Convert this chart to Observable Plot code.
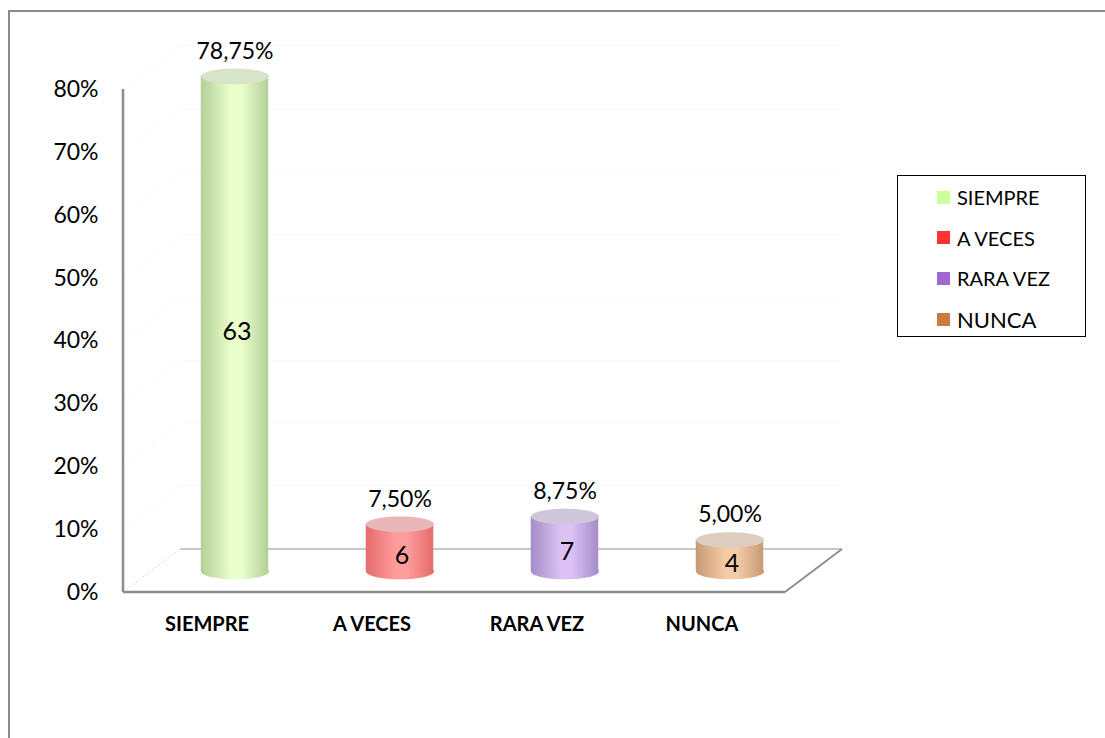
<!DOCTYPE html>
<html>
<head>
<meta charset="utf-8">
<script src="https://cdn.jsdelivr.net/npm/d3@7"></script>
<script src="https://cdn.jsdelivr.net/npm/@observablehq/plot@0.6"></script>
<style>
  html, body { margin: 0; padding: 0; background: #fff; overflow: hidden; width: 1105px; height: 738px; }
  #frame { position: absolute; left: 8px; top: 10px; width: 1200px; height: 800px; border: 2px solid #8a8a8a; box-sizing: border-box; }
  #chart { position: absolute; left: 0; top: 0; }
  #legend { position: absolute; left: 897px; top: 175px; width: 189px; height: 162px; border: 1.5px solid #000; box-sizing: border-box; background: #fff; font-family: Lato, "Open Sans", sans-serif; font-size: 20px; color: #000; }
  .item { position: absolute; left: 39px; height: 24px; display: flex; align-items: center; }
  .sw { width: 13px; height: 13px; margin-right: 7px; }
</style>
</head>
<body>
<div id="frame"></div>
<div id="chart"></div>
<div id="legend"></div>
<script>
// ---- data ----
const categories = ["SIEMPRE", "A VECES", "RARA VEZ", "NUNCA"];
const counts = [63, 6, 7, 4];
const percents = [78.75, 7.5, 8.75, 5.0];
const percentLabels = ["78,75%", "7,50%", "8,75%", "5,00%"];
const yTicks = [0, 10, 20, 30, 40, 50, 60, 70, 80];
const legendColors = ["#ccff99", "#ff3333", "#a066d3", "#cc7a3f"];
const legendFontSizes = [20, 20, 20, 22];
const edgeColors = ["#b3cf98", "#e56c6c", "#a48cc8", "#c79a76"];
const centerColors = ["#eaffcc", "#ff9d9d", "#dcc2f4", "#f6cca6"];
const topColors = ["#d7e4c9", "#e8b6b6", "#d0c6dc", "#ddcdbf"];

// ---- style constants ----
const DEPTH_X = 57, DEPTH_Y = -43;     // floor depth
const BAR_DX = 28, BAR_DY = -21;       // bars sit mid-depth
const BAR_R = 34;                      // half bar width (px)
const M = { left: 123, right: 320, top: 89, bottom: 146 };
const W = 1105, H = 738;

const rows = categories.map((c, i) => ({
  cat: c, count: counts[i], pct: percents[i], pctLabel: percentLabels[i],
  grad: `url(#grad${i})`, top: topColors[i]
}));

// ellipse symbol for cylinder caps
const ellipse = {
  draw(context, size) {
    const rx = Math.sqrt(size / Math.PI), ry = rx * 0.23, k = 0.5523;
    context.moveTo(-rx, 0);
    context.bezierCurveTo(-rx, -ry * k, -rx * k, -ry, 0, -ry);
    context.bezierCurveTo(rx * k, -ry, rx, -ry * k, rx, 0);
    context.bezierCurveTo(rx, ry * k, rx * k, ry, 0, ry);
    context.bezierCurveTo(-rx * k, ry, -rx, ry * k, -rx, 0);
    context.closePath();
  }
};

// gradient definitions
function defs() {
  const g = d3.create("svg:defs");
  categories.forEach((c, i) => {
    const lg = g.append("linearGradient").attr("id", `grad${i}`).attr("x1", 0).attr("x2", 1).attr("y1", 0).attr("y2", 0);
    lg.append("stop").attr("offset", "0%").attr("stop-color", edgeColors[i]);
    lg.append("stop").attr("offset", "45%").attr("stop-color", centerColors[i]);
    lg.append("stop").attr("offset", "60%").attr("stop-color", centerColors[i]);
    lg.append("stop").attr("offset", "100%").attr("stop-color", edgeColors[i]);
  });
  return g.node();
}

// 3D floor, walls and axis line
function walls(index, scales, values, dims) {
  const g = d3.create("svg:g").attr("fill", "none");
  const x0 = dims.marginLeft, x1 = dims.width - dims.marginRight;
  const y0 = scales.y(0);
  yTicks.filter(t => t > 0).forEach(t => {
    const y = scales.y(t);
    g.append("line").attr("x1", x0 + DEPTH_X).attr("x2", x1 + DEPTH_X).attr("y1", y + DEPTH_Y).attr("y2", y + DEPTH_Y)
      .attr("stroke", "#fafafa").attr("stroke-width", 1);
    g.append("line").attr("x1", x0).attr("x2", x0 + DEPTH_X).attr("y1", y).attr("y2", y + DEPTH_Y)
      .attr("stroke", "#f5f5f5").attr("stroke-dasharray", "2,2");
  });
  g.append("line").attr("x1", x0).attr("y1", y0).attr("x2", x0 + DEPTH_X).attr("y2", y0 + DEPTH_Y)
    .attr("stroke", "#d6d6d6").attr("stroke-dasharray", "2,2");
  g.append("line").attr("x1", x0 + DEPTH_X).attr("y1", y0 + DEPTH_Y).attr("x2", x1 + DEPTH_X).attr("y2", y0 + DEPTH_Y)
    .attr("stroke", "#c8c8c8").attr("stroke-width", 2);
  g.append("line").attr("x1", x1).attr("y1", y0).attr("x2", x1 + DEPTH_X).attr("y2", y0 + DEPTH_Y)
    .attr("stroke", "#8c8c8c").attr("stroke-width", 1.8);
  g.append("line").attr("x1", x0).attr("y1", y0).attr("x2", x1).attr("y2", y0)
    .attr("stroke", "#8c8c8c").attr("stroke-width", 2.5);
  g.append("line").attr("x1", x0).attr("x2", x0).attr("y1", scales.y(yTicks[yTicks.length - 1])).attr("y2", y0)
    .attr("stroke", "#8c8c8c").attr("stroke-width", 2.5);
  return g.node();
}

const band = (W - M.left - M.right) / categories.length;
const inset = (band - 2 * BAR_R) / 2;

const chart = Plot.plot({
  width: W,
  height: H,
  marginLeft: M.left,
  marginRight: M.right,
  marginTop: M.top,
  marginBottom: M.bottom,
  style: { fontFamily: "Lato, 'Open Sans', sans-serif", background: "transparent", color: "#000" },
  x: { type: "band", domain: categories, padding: 0, label: null },
  y: { domain: [0, 80], label: null },
  marks: [
    defs,
    walls,
    Plot.axisY({ ticks: yTicks, tickFormat: d => `${d}%`, tickSize: 0, tickPadding: 25, fontSize: 23, fill: "#000", label: null }),
    Plot.axisX({ tickSize: 0, tickPadding: 24, fontSize: 20, fontWeight: "bold", fill: "#000", label: null }),
    Plot.dot(rows, { x: "cat", y: () => 0, r: BAR_R, symbol: ellipse, fill: "grad", stroke: "none", dx: BAR_DX, dy: BAR_DY }),
    Plot.barY(rows, { x: "cat", y: "pct", fill: "grad", insetLeft: inset, insetRight: inset, dx: BAR_DX, dy: BAR_DY }),
    Plot.dot(rows, { x: "cat", y: "pct", r: BAR_R, symbol: ellipse, fill: "top", stroke: "none", dx: BAR_DX, dy: BAR_DY }),
    Plot.text(rows, { x: "cat", y: d => d.pct / 2, text: d => String(d.count), fontSize: 25, fill: "#000", dx: BAR_DX + 2, dy: BAR_DY + 8 }),
    Plot.text(rows, { x: "cat", y: "pct", text: "pctLabel", fontSize: 23, fill: "#000", dx: BAR_DX, dy: BAR_DY - 25 })
  ]
});
document.getElementById("chart").appendChild(chart);

const legend = document.getElementById("legend");
categories.forEach((c, i) => {
  const it = document.createElement("div");
  it.className = "item";
  it.style.top = (9 + i * 40.7) + "px";
  const sw = document.createElement("span");
  sw.className = "sw";
  sw.style.background = legendColors[i];
  const tx = document.createElement("span");
  tx.textContent = c;
  tx.style.fontSize = legendFontSizes[i] + "px";
  it.appendChild(sw);
  it.appendChild(tx);
  legend.appendChild(it);
});
</script>
</body>
</html>
